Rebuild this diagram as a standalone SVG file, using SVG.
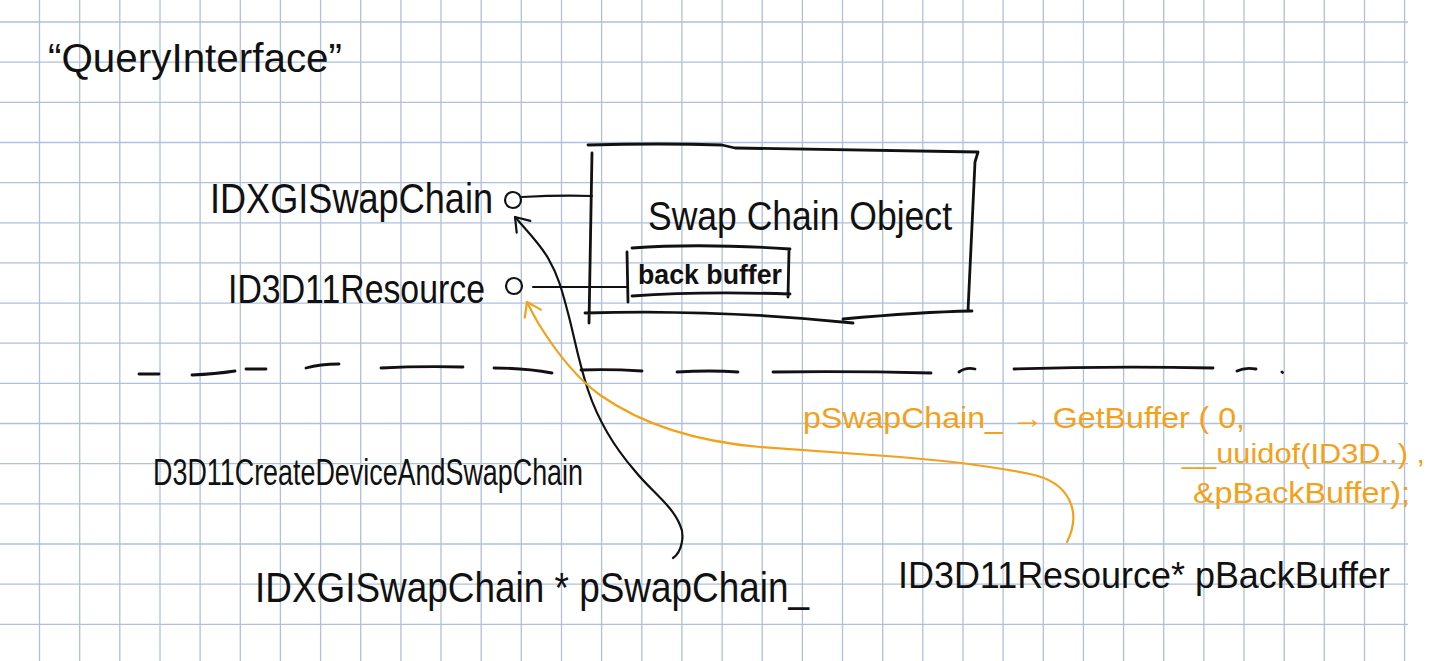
<svg xmlns="http://www.w3.org/2000/svg" width="1437" height="661" viewBox="0 0 1437 661">
<style>
.hw{font-family:"Liberation Sans",Arial,sans-serif;fill:#111;}
.or{font-family:"Liberation Sans",Arial,sans-serif;fill:#f4a11a;}
.ink{fill:none;stroke:#111;stroke-width:2.2;stroke-linecap:round;stroke-linejoin:round;}
.inkb{fill:none;stroke:#111;stroke-width:2.8;stroke-linecap:round;stroke-linejoin:round;}
.ora{fill:none;stroke:#f4a11a;stroke-width:2.2;stroke-linecap:round;stroke-linejoin:round;}
.grid{fill:none;stroke:#afc0db;stroke-width:1.3;}
</style>
<defs>
<marker id="arrowK" markerUnits="userSpaceOnUse" markerWidth="24" markerHeight="24" viewBox="-16 -12 20 24" refX="0" refY="0" orient="auto" overflow="visible">
<path d="M-13,-9 L0,0 L-13,9" fill="none" stroke="#111" stroke-width="2.2" stroke-linecap="round" stroke-linejoin="round"/>
</marker>
<marker id="arrowO" markerUnits="userSpaceOnUse" markerWidth="24" markerHeight="24" viewBox="-16 -12 20 24" refX="0" refY="0" orient="auto" overflow="visible">
<path d="M-13,-9 L0,0 L-13,9" fill="none" stroke="#f4a11a" stroke-width="2.2" stroke-linecap="round" stroke-linejoin="round"/>
</marker>
</defs>
<rect width="1437" height="661" fill="#ffffff"/>
<g id="grid">
<path class="grid" d="M39.5 0V661M79.7 0V661M119.8 0V661M160 0V661M200.1 0V661M240.3 0V661M280.4 0V661M320.6 0V661M360.7 0V661M400.9 0V661M441 0V661M481.2 0V661M521.3 0V661M561.5 0V661M601.6 0V661M641.8 0V661M681.9 0V661M722.1 0V661M762.2 0V661M802.4 0V661M842.5 0V661M882.7 0V661M922.8 0V661M963 0V661M1003.1 0V661M1043.3 0V661M1083.4 0V661M1123.6 0V661M1163.7 0V661M1203.9 0V661M1244 0V661M1284.2 0V661M1324.3 0V661M1364.5 0V661M1404.6 0V661"/>
<path class="grid" d="M0 22H1408M0 62.2H1408M0 102.3H1408M0 142.5H1408M0 182.6H1408M0 222.8H1408M0 262.9H1408M0 303.1H1408M0 343.2H1408M0 383.4H1408M0 423.5H1408M0 463.7H1408M0 503.8H1408M0 544H1408M0 584.1H1408M0 624.3H1408"/>
</g>

<g id="query-interface-label">
<text class="hw" x="48" y="72" font-size="40" textLength="294" lengthAdjust="spacingAndGlyphs">“QueryInterface”</text>
</g>

<g id="idxgiswapchain-interface">
<text class="hw" x="210" y="213" font-size="42" textLength="283" lengthAdjust="spacingAndGlyphs">IDXGISwapChain</text>
<circle class="ink" cx="513" cy="200" r="8"/>
</g>

<g id="id3d11resource-interface">
<text class="hw" x="228" y="303" font-size="40" textLength="257" lengthAdjust="spacingAndGlyphs">ID3D11Resource</text>
<circle class="ink" cx="514" cy="286" r="8"/>
</g>

<g id="swap-chain-object">
<path class="inkb" d="M588,145 Q660,143 722,145 L735,148 Q850,150 978,152 M592,153 L589,323 M978,152 L975,162 L968,311 M585,313 Q720,309 853,323 M843,319 Q920,312 972,311"/>
<text class="hw" x="648" y="230" font-size="40" textLength="304" lengthAdjust="spacingAndGlyphs">Swap Chain Object</text>
</g>

<g id="back-buffer">
<path class="inkb" d="M632,248 Q700,243 790,249 M627,252 L628,302 M632,296 Q700,291 790,294 M789,250 L788,297"/>
<text class="hw" x="638" y="284" font-size="28" font-weight="bold" textLength="144" lengthAdjust="spacingAndGlyphs">back buffer</text>
</g>

<g id="separator">
<path class="inkb" d="M139,374 L159,374 M192,375 Q215,374 235,371 M246,369 L266,369 M306,368 Q320,364 339,364 M381,368 Q420,366 463,367 M494,368 Q525,368 552,373 M581,370 Q610,369 642,371 M677,372 Q710,370 738,372 M773,372 Q850,371 931,373 M959,372 Q966,367 975,369 M1014,369 Q1110,366 1213,368 M1237,371 Q1245,367 1256,369 M1282,372 L1282.5,372.5"/>
</g>

<g id="d3d11-create-device">
<text class="hw" x="153" y="485" font-size="36" textLength="430" lengthAdjust="spacingAndGlyphs">D3D11CreateDeviceAndSwapChain</text>
</g>

<g id="pswapchain-declaration">
<text class="hw" x="255" y="602" font-size="42" textLength="554" lengthAdjust="spacingAndGlyphs">IDXGISwapChain * pSwapChain_</text>
</g>

<g id="pbackbuffer-declaration">
<text class="hw" x="898" y="588" font-size="36" textLength="492" lengthAdjust="spacingAndGlyphs">ID3D11Resource* pBackBuffer</text>
</g>

<g id="getbuffer-call">
<text class="or" x="803" y="428" font-size="30" textLength="442" lengthAdjust="spacingAndGlyphs">pSwapChain_ → GetBuffer ( 0,</text>
<text class="or" x="1182" y="463" font-size="28" textLength="243" lengthAdjust="spacingAndGlyphs">__uuidof(ID3D..) ,</text>
<text class="or" x="1193" y="503" font-size="30" textLength="217" lengthAdjust="spacingAndGlyphs">&amp;pBackBuffer);</text>
</g>

<g id="connectors">
<path class="ink" d="M522,197 Q560,195 592,196"/>
<path class="ink" d="M533,287 L627,287"/>
<path class="ink" marker-end="url(#arrowK)" d="M673,558 C682,552 685,535 680,525 C672,505 650,490 635,471 C615,448 598,420 588,390 C578,360 574,335 568,313 C562,290 558,275 548,258 C540,244 528,232 515,217"/>
<path class="ora" marker-end="url(#arrowO)" d="M1067,542 C1082,512 1070,482 1030,474 C990,466 950,461 900,457 C850,453 800,450 760,447 C690,441 640,423 600,395 C575,377 555,350 540,326 C535,318 531,310 527,302"/>
</g>
</svg>
